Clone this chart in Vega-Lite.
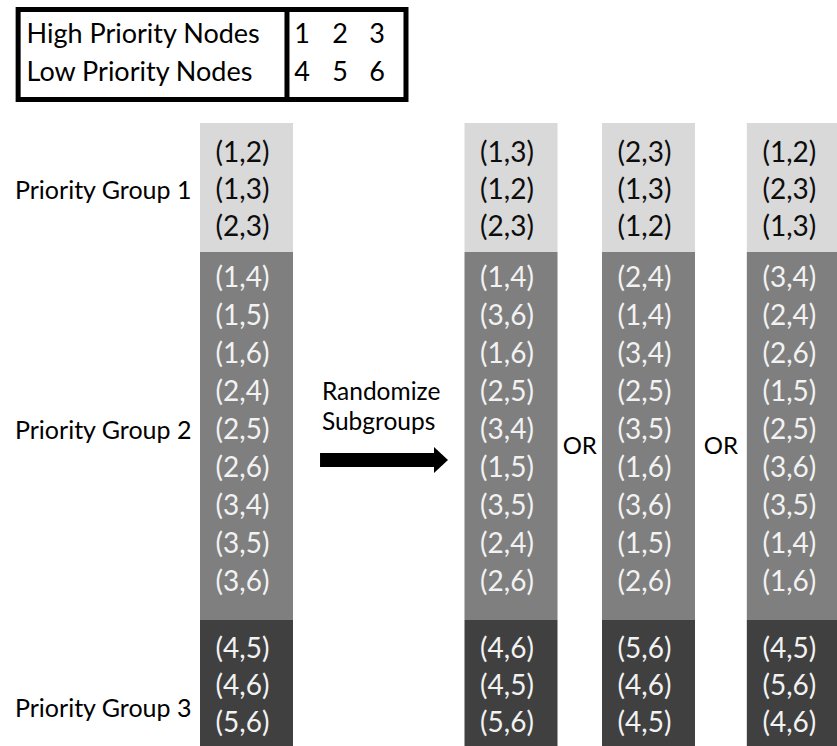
{
  "$schema": "https://vega.github.io/schema/vega-lite/v6.json",
  "width": 837,
  "height": 746,
  "autosize": {"type": "fit", "contains": "padding"},
  "padding": 0,
  "background": "white",
  "config": {"view": {"stroke": null}},
  "datasets": {
    "cells": [
      {"col": 1, "slot": 1, "pair": "(1,2)", "group": 1},
      {"col": 1, "slot": 2, "pair": "(1,3)", "group": 1},
      {"col": 1, "slot": 3, "pair": "(2,3)", "group": 1},
      {"col": 1, "slot": 4, "pair": "(1,4)", "group": 2},
      {"col": 1, "slot": 5, "pair": "(1,5)", "group": 2},
      {"col": 1, "slot": 6, "pair": "(1,6)", "group": 2},
      {"col": 1, "slot": 7, "pair": "(2,4)", "group": 2},
      {"col": 1, "slot": 8, "pair": "(2,5)", "group": 2},
      {"col": 1, "slot": 9, "pair": "(2,6)", "group": 2},
      {"col": 1, "slot": 10, "pair": "(3,4)", "group": 2},
      {"col": 1, "slot": 11, "pair": "(3,5)", "group": 2},
      {"col": 1, "slot": 12, "pair": "(3,6)", "group": 2},
      {"col": 1, "slot": 13, "pair": "(4,5)", "group": 3},
      {"col": 1, "slot": 14, "pair": "(4,6)", "group": 3},
      {"col": 1, "slot": 15, "pair": "(5,6)", "group": 3},
      {"col": 2, "slot": 1, "pair": "(1,3)", "group": 1},
      {"col": 2, "slot": 2, "pair": "(1,2)", "group": 1},
      {"col": 2, "slot": 3, "pair": "(2,3)", "group": 1},
      {"col": 2, "slot": 4, "pair": "(1,4)", "group": 2},
      {"col": 2, "slot": 5, "pair": "(3,6)", "group": 2},
      {"col": 2, "slot": 6, "pair": "(1,6)", "group": 2},
      {"col": 2, "slot": 7, "pair": "(2,5)", "group": 2},
      {"col": 2, "slot": 8, "pair": "(3,4)", "group": 2},
      {"col": 2, "slot": 9, "pair": "(1,5)", "group": 2},
      {"col": 2, "slot": 10, "pair": "(3,5)", "group": 2},
      {"col": 2, "slot": 11, "pair": "(2,4)", "group": 2},
      {"col": 2, "slot": 12, "pair": "(2,6)", "group": 2},
      {"col": 2, "slot": 13, "pair": "(4,6)", "group": 3},
      {"col": 2, "slot": 14, "pair": "(4,5)", "group": 3},
      {"col": 2, "slot": 15, "pair": "(5,6)", "group": 3},
      {"col": 3, "slot": 1, "pair": "(2,3)", "group": 1},
      {"col": 3, "slot": 2, "pair": "(1,3)", "group": 1},
      {"col": 3, "slot": 3, "pair": "(1,2)", "group": 1},
      {"col": 3, "slot": 4, "pair": "(2,4)", "group": 2},
      {"col": 3, "slot": 5, "pair": "(1,4)", "group": 2},
      {"col": 3, "slot": 6, "pair": "(3,4)", "group": 2},
      {"col": 3, "slot": 7, "pair": "(2,5)", "group": 2},
      {"col": 3, "slot": 8, "pair": "(3,5)", "group": 2},
      {"col": 3, "slot": 9, "pair": "(1,6)", "group": 2},
      {"col": 3, "slot": 10, "pair": "(3,6)", "group": 2},
      {"col": 3, "slot": 11, "pair": "(1,5)", "group": 2},
      {"col": 3, "slot": 12, "pair": "(2,6)", "group": 2},
      {"col": 3, "slot": 13, "pair": "(5,6)", "group": 3},
      {"col": 3, "slot": 14, "pair": "(4,6)", "group": 3},
      {"col": 3, "slot": 15, "pair": "(4,5)", "group": 3},
      {"col": 4, "slot": 1, "pair": "(1,2)", "group": 1},
      {"col": 4, "slot": 2, "pair": "(2,3)", "group": 1},
      {"col": 4, "slot": 3, "pair": "(1,3)", "group": 1},
      {"col": 4, "slot": 4, "pair": "(3,4)", "group": 2},
      {"col": 4, "slot": 5, "pair": "(2,4)", "group": 2},
      {"col": 4, "slot": 6, "pair": "(2,6)", "group": 2},
      {"col": 4, "slot": 7, "pair": "(1,5)", "group": 2},
      {"col": 4, "slot": 8, "pair": "(2,5)", "group": 2},
      {"col": 4, "slot": 9, "pair": "(3,6)", "group": 2},
      {"col": 4, "slot": 10, "pair": "(3,5)", "group": 2},
      {"col": 4, "slot": 11, "pair": "(1,4)", "group": 2},
      {"col": 4, "slot": 12, "pair": "(1,6)", "group": 2},
      {"col": 4, "slot": 13, "pair": "(4,5)", "group": 3},
      {"col": 4, "slot": 14, "pair": "(5,6)", "group": 3},
      {"col": 4, "slot": 15, "pair": "(4,6)", "group": 3}
    ],
    "blocks": [
      {"col": 1, "group": 1, "from": 0.5, "to": 3.5},
      {"col": 1, "group": 2, "from": 3.5, "to": 12.5},
      {"col": 1, "group": 3, "from": 12.5, "to": 15.5},
      {"col": 2, "group": 1, "from": 0.5, "to": 3.5},
      {"col": 2, "group": 2, "from": 3.5, "to": 12.5},
      {"col": 2, "group": 3, "from": 12.5, "to": 15.5},
      {"col": 3, "group": 1, "from": 0.5, "to": 3.5},
      {"col": 3, "group": 2, "from": 3.5, "to": 12.5},
      {"col": 3, "group": 3, "from": 12.5, "to": 15.5},
      {"col": 4, "group": 1, "from": 0.5, "to": 3.5},
      {"col": 4, "group": 2, "from": 3.5, "to": 12.5},
      {"col": 4, "group": 3, "from": 12.5, "to": 15.5}
    ],
    "groupLabels": [
      {"col": 0.771, "slot": 2, "text": "Priority Group 1"},
      {"col": 0.771, "slot": 8, "text": "Priority Group 2"},
      {"col": 0.771, "slot": 14.6, "text": "Priority Group 3"}
    ],
    "legendBox": [
      {"col": 0.05, "col2": 1.603, "from": -2.5, "to": -0.5}
    ],
    "legendDivider": [
      {"col": 1.153, "from": -2.5, "to": -0.5}
    ],
    "legendNames": [
      {"col": 0.085, "slot": -2, "text": "High Priority Nodes"},
      {"col": 0.085, "slot": -1, "text": "Low Priority Nodes"}
    ],
    "legendNodes": [
      {"col": 1.21, "slot": -2, "text": "1"},
      {"col": 1.354, "slot": -2, "text": "2"},
      {"col": 1.494, "slot": -2, "text": "3"},
      {"col": 1.21, "slot": -1, "text": "4"},
      {"col": 1.354, "slot": -1, "text": "5"},
      {"col": 1.494, "slot": -1, "text": "6"}
    ],
    "notes": [
      {"col": 1.285, "slot": 7, "text": "Randomize"},
      {"col": 1.285, "slot": 7.8, "text": "Subgroups"}
    ],
    "ors": [
      {"col": 2.5, "slot": 8.42, "text": "OR"},
      {"col": 3.5, "slot": 8.42, "text": "OR"}
    ],
    "arrowShaft": [
      {"col": 1.278, "col2": 1.716, "slot": 8.76}
    ],
    "arrowHead": [
      {"col": 1.7353, "slot": 8.76}
    ]
  },
  "encoding": {
    "x": {"field": "col", "type": "quantitative", "axis": null,
      "scale": {"domain": [0, 1, 2, 3, 4], "range": [0, 246.5, 511, 648.5, 797], "zero": false, "nice": false}},
    "y": {"field": "slot", "type": "quantitative", "axis": null,
      "scale": {"domain": [-2.5, -2, -1, -0.5, 0.5, 1, 3, 3.5, 4, 12, 12.5, 13, 15, 15.5],
                "range": [9.5, 35, 73, 99.5, 123, 154, 228, 252, 279, 583, 620, 650, 724, 746], "zero": false, "nice": false}}
  },
  "layer": [
    {
      "data": {"name": "blocks"},
      "mark": {"type": "bar", "width": 93, "clip": true},
      "encoding": {
        "y": {"field": "from", "type": "quantitative"},
        "y2": {"field": "to"},
        "color": {"field": "group", "type": "nominal", "legend": null,
          "scale": {"domain": [1, 2, 3], "range": ["#d9d9d9", "#7f7f7f", "#404040"]}}
      }
    },
    {
      "data": {"name": "cells"},
      "mark": {"type": "text", "font": "Lato", "fontSize": 28, "baseline": "middle", "align": "center", "dx": -4},
      "encoding": {
        "text": {"field": "pair"},
        "color": {"condition": {"test": "datum.group == 1", "value": "#0d0d0d"}, "value": "#f2f2f2"}
      }
    },
    {
      "data": {"name": "groupLabels"},
      "mark": {"type": "text", "font": "Lato", "fontSize": 25, "baseline": "middle", "align": "right", "color": "#000000"},
      "encoding": {"text": {"field": "text"}}
    },
    {
      "data": {"name": "legendBox"},
      "mark": {"type": "rect", "fill": null, "fillOpacity": 0, "stroke": "#000000", "strokeWidth": 5},
      "encoding": {
        "x2": {"field": "col2"},
        "y": {"field": "from", "type": "quantitative"},
        "y2": {"field": "to"}
      }
    },
    {
      "data": {"name": "legendDivider"},
      "mark": {"type": "rule", "stroke": "#000000", "strokeWidth": 5},
      "encoding": {
        "y": {"field": "from", "type": "quantitative"},
        "y2": {"field": "to"}
      }
    },
    {
      "data": {"name": "legendNames"},
      "mark": {"type": "text", "font": "Lato", "fontSize": 27, "baseline": "middle", "align": "left", "color": "#000000"},
      "encoding": {"text": {"field": "text"}}
    },
    {
      "data": {"name": "legendNodes"},
      "mark": {"type": "text", "font": "Lato", "fontSize": 27, "baseline": "middle", "align": "center", "color": "#000000"},
      "encoding": {"text": {"field": "text"}}
    },
    {
      "data": {"name": "notes"},
      "mark": {"type": "text", "font": "Lato", "fontSize": 24.5, "baseline": "middle", "align": "left", "color": "#000000"},
      "encoding": {"text": {"field": "text"}}
    },
    {
      "data": {"name": "ors"},
      "mark": {"type": "text", "font": "Lato", "fontSize": 24, "baseline": "middle", "align": "center", "color": "#000000"},
      "encoding": {"text": {"field": "text"}}
    },
    {
      "data": {"name": "arrowShaft"},
      "mark": {"type": "rule", "stroke": "#000000", "strokeWidth": 14},
      "encoding": {"x2": {"field": "col2"}}
    },
    {
      "data": {"name": "arrowHead"},
      "mark": {"type": "point", "shape": "M-0.538,-1L0.538,0L-0.538,1Z", "size": 676, "filled": true, "color": "#000000", "opacity": 1},
      "encoding": {}
    }
  ]
}
